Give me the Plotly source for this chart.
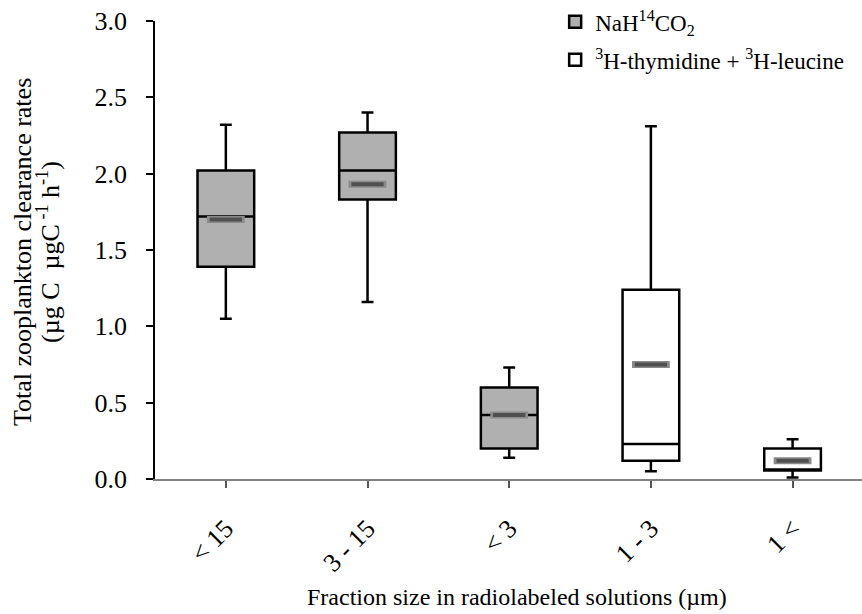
import plotly.graph_objects as go

categories = ["< 15", "3 - 15", "< 3", "1 - 3", "1 <"]

# NaH14CO2 series (first three fractions)
cat_a = ["< 15", "3 - 15", "< 3"]
low_a = [1.05, 1.16, 0.14]
q1_a = [1.39, 1.83, 0.20]
med_a = [1.72, 2.02, 0.42]
q3_a = [2.02, 2.27, 0.60]
high_a = [2.32, 2.40, 0.73]
mean_a = [1.70, 1.93, 0.42]

# 3H-thymidine + 3H-leucine series (last two fractions)
cat_b = ["1 - 3", "1 <"]
low_b = [0.05, 0.01]
q1_b = [0.12, 0.055]
med_b = [0.23, 0.06]
q3_b = [1.24, 0.20]
high_b = [2.31, 0.26]
mean_b = [0.75, 0.12]

ytick_vals = [0, 0.5, 1.0, 1.5, 2.0, 2.5, 3.0]
ytick_text = ["0.0", "0.5", "1.0", "1.5", "2.0", "2.5", "3.0"]

font_family = "Liberation Serif, Times New Roman, serif"

fig = go.Figure()
fig.add_trace(go.Box(
    x=cat_a, q1=q1_a, median=med_a, q3=q3_a,
    lowerfence=low_a, upperfence=high_a,
    name="NaH<sup>14</sup>CO<sub>2</sub>", legendgroup="a",
    fillcolor="#b0b0b0", line=dict(color="black", width=2.5),
    width=0.4, whiskerwidth=0.21, boxpoints=False,
))
fig.add_trace(go.Box(
    x=cat_b, q1=q1_b, median=med_b, q3=q3_b,
    lowerfence=low_b, upperfence=high_b,
    name="<sup>3</sup>H-thymidine + <sup>3</sup>H-leucine", legendgroup="b",
    fillcolor="white", line=dict(color="black", width=2.5),
    width=0.4, whiskerwidth=0.21, boxpoints=False,
))

mean_x = cat_a + cat_b
mean_y = mean_a + mean_b
fig.add_trace(go.Scatter(
    x=mean_x, y=mean_y, mode="markers", showlegend=False, hoverinfo="skip",
    marker=dict(symbol="line-ew", size=27, color="#8a8a8a",
                line=dict(color="#8a8a8a", width=7)),
))
fig.add_trace(go.Scatter(
    x=mean_x, y=mean_y, mode="markers", showlegend=False, hoverinfo="skip",
    marker=dict(symbol="line-ew", size=23, color="#505050",
                line=dict(color="#505050", width=4)),
))

fig.update_layout(
    width=862, height=614,
    margin=dict(l=155, r=0, t=21, b=135),
    paper_bgcolor="white", plot_bgcolor="white",
    boxmode="overlay",
    font=dict(family=font_family, size=24, color="black"),
    showlegend=True,
    legend=dict(x=0.566, y=1.045, xanchor="left", yanchor="top",
                font=dict(family=font_family, size=23, color="black"),
                bgcolor="rgba(0,0,0,0)", tracegroupgap=5),
    xaxis=dict(
        type="category", categoryorder="array", categoryarray=categories,
        range=[-0.5, 4.49], showline=True, linecolor="#808080", linewidth=2,
        ticks="outside", ticklen=7, tickcolor="#555555", tickwidth=1.5,
        tickangle=-45, showgrid=False, zeroline=False, ticklabelstandoff=15,
        tickfont=dict(family=font_family, size=26),
    ),
    yaxis=dict(
        range=[0, 3.0], tickvals=ytick_vals, ticktext=ytick_text,
        showline=True, linecolor="black", linewidth=1.5,
        ticks="outside", ticklen=7, tickcolor="black", tickwidth=1.5,
        showgrid=False, zeroline=False, ticklabelstandoff=14,
        tickfont=dict(family=font_family, size=26),
    ),
    annotations=[
        dict(text="Total zooplankton clearance rates",
             x=-0.1881, y=0.4956, xref="paper", yref="paper", textangle=-90,
             xanchor="center", yanchor="middle", showarrow=False,
             font=dict(family=font_family, size=26, color="black")),
        dict(text="(µg C  µgC<sup> -1</sup> h<sup>-1</sup>)",
             x=-0.1514, y=0.4956, xref="paper", yref="paper", textangle=-90,
             xanchor="center", yanchor="middle", showarrow=False,
             font=dict(family=font_family, size=26, color="black")),
        dict(text="Fraction size in radiolabeled solutions (µm)",
             x=0.512, y=-0.2576, xref="paper", yref="paper",
             xanchor="center", yanchor="middle", showarrow=False,
             font=dict(family=font_family, size=24, color="black")),
    ],
)

fig.write_html("out.html")
